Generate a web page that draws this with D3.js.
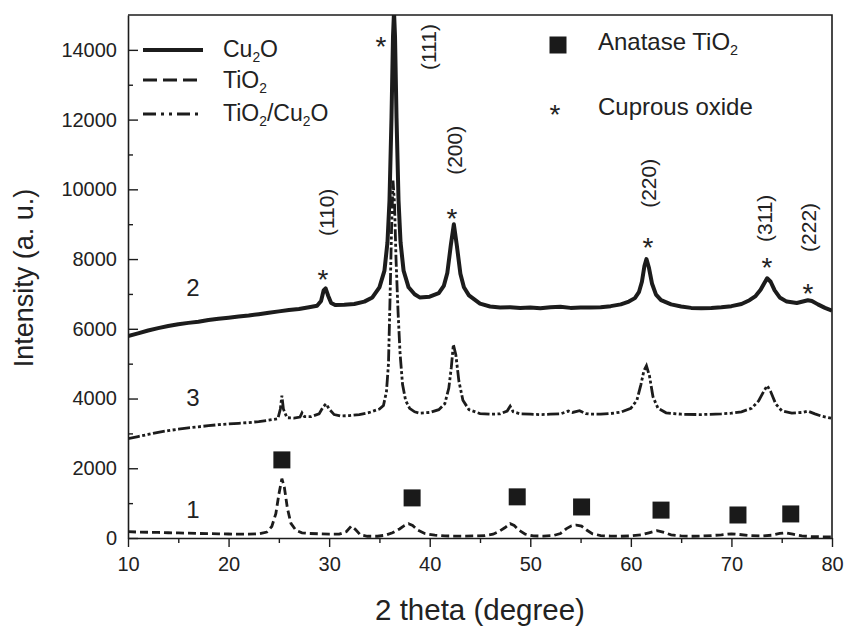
<!DOCTYPE html>
<html><head><meta charset="utf-8">
<script src="https://cdn.jsdelivr.net/npm/d3@7/dist/d3.min.js"></script>
<style>
body{margin:0;background:#fff}
svg{display:block}
text{font-family:"Liberation Sans",Arial,Helvetica,sans-serif;fill:#222}
</style>
</head><body>
<svg id="chart" width="845" height="626"></svg>
<script>
// ---- data (2 theta in degrees, intensity in a.u.) ----
const cu2oData = [
[10,5790],[11,5870],[12,5950],[13,6020],[14,6080],[15,6130],[16,6170],[17,6200],[18,6250],[19,6290],
[20,6320],[21,6350],[22,6380],[23,6420],[24,6460],[25,6500],[26,6540],[27,6570],[28,6620],[28.8,6660],
[29.2,6800],[29.45,7100],[29.65,7160],[29.9,6950],[30.2,6740],[30.6,6680],[31.5,6690],[32.5,6710],[33.5,6780],[34.3,6900],
[35.0,7190],[35.5,7670],[35.8,8480],[36.0,9680],[36.2,12050],[36.35,14380],[36.45,15100],[36.55,14380],[36.7,12050],[36.9,9680],
[37.1,8480],[37.4,7670],[37.9,7190],[38.5,6990],[39,6900],[40,6920],[40.9,7020],[41.4,7230],[41.75,7600],[42.1,8400],
[42.4,9000],[42.7,8380],[43.05,7580],[43.4,7190],[43.9,6960],[44.4,6850],[45,6720],[46,6640],[47,6610],[48,6620],
[49,6600],[50,6610],[51,6590],[52,6620],[53,6630],[54,6600],[55,6610],[56,6610],[57,6620],[58,6650],
[59,6700],[59.8,6780],[60.4,6880],[60.8,7050],[61.1,7350],[61.35,7800],[61.55,8000],[61.8,7750],[62.1,7300],[62.5,6980],
[63.0,6820],[64,6700],[65,6640],[66,6600],[67,6590],[68,6600],[69,6620],[70,6650],[71,6710],[71.8,6820],
[72.4,6940],[72.9,7120],[73.25,7300],[73.55,7450],[73.9,7350],[74.3,7100],[74.8,6900],[75.5,6780],[76.5,6740],[77.2,6790],
[77.6,6820],[78,6800],[78.6,6700],[79.3,6600],[80,6520]
];
const tio2Data = [
[10,180],[11,170],[12,165],[13,160],[14,150],[15,145],[16,140],[17,130],[18,125],[19,120],
[20,115],[21,110],[22,110],[23,120],[23.8,170],[24.3,330],[24.7,700],[25.0,1250],[25.3,1700],[25.55,1450],
[25.85,850],[26.2,420],[26.7,220],[27.3,150],[28,130],[29,120],[30,110],[31,110],[31.7,180],[32.2,340],
[32.6,250],[33.1,90],[33.8,50],[34.8,50],[35.6,80],[36.3,150],[37.0,260],[37.5,360],[37.9,410],[38.3,360],
[38.8,230],[39.5,130],[40.5,80],[41.5,60],[42.5,55],[43.5,55],[44.5,60],[45.5,70],[46.3,110],[46.9,190],
[47.5,300],[48.0,410],[48.4,360],[48.9,220],[49.5,110],[50.3,60],[51.3,55],[52.3,70],[53.0,130],[53.6,270],
[54.1,350],[54.6,370],[55.1,340],[55.6,230],[56.2,120],[57,70],[58,55],[59,50],[60,60],[61,90],
[61.8,150],[62.6,210],[63.3,160],[64,90],[65,60],[66,50],[67,55],[68,70],[69,90],[70,120],
[70.8,100],[71.8,70],[73,60],[74,80],[74.8,130],[75.4,150],[76.1,110],[77,60],[78,40],[79,35],[80,30]
];
const compositeData = [
[10,2850],[11,2910],[12,2970],[13,3030],[14,3080],[15,3120],[16,3160],[17,3190],[18,3220],[19,3250],
[20,3270],[21,3290],[22,3310],[23,3340],[24,3380],[24.9,3420],[25.15,3700],[25.3,4080],[25.45,3700],[25.8,3450],
[26.5,3440],[27.1,3470],[27.3,3590],[27.55,3480],[28.2,3480],[29.0,3560],[29.4,3760],[29.7,3850],[30.0,3700],[30.5,3540],
[31.1,3500],[32,3510],[33,3540],[34,3600],[35.0,3700],[35.4,3800],[35.7,4200],[35.9,5000],[36.05,6800],[36.2,8800],
[36.35,10250],[36.5,9600],[36.65,8000],[36.85,6500],[37.05,5300],[37.3,4400],[37.6,3950],[38.0,3720],[38.5,3620],[39,3580],
[40,3600],[40.9,3680],[41.5,3850],[41.9,4300],[42.15,4900],[42.35,5550],[42.6,5250],[42.9,4500],[43.3,3950],[43.9,3680],
[45,3570],[46,3550],[47,3560],[47.7,3640],[48.0,3780],[48.3,3620],[49,3560],[50,3550],[51,3540],[52,3550],
[53,3560],[53.8,3640],[54.2,3600],[54.9,3650],[55.5,3570],[56,3550],[57,3550],[58,3570],[59,3610],[60,3720],
[60.6,3950],[61.0,4400],[61.3,4800],[61.55,4940],[61.85,4650],[62.2,4050],[62.7,3720],[63.5,3590],[65,3550],[67,3540],
[69,3560],[70,3580],[71,3620],[72,3720],[72.7,3930],[73.2,4200],[73.55,4370],[73.9,4200],[74.4,3850],[75,3650],
[76,3580],[77,3600],[77.6,3640],[78.3,3560],[79,3490],[80,3430]
];
const xTicks = [10,20,30,40,50,60,70,80];
const xMinorTicks = [15,25,35,45,55,65,75];
const yTicks = [0,2000,4000,6000,8000,10000,12000,14000];
const yMinorTicks = [1000,3000,5000,7000,9000,11000,13000];
const anataseMarks = [[25.3,2240],[38.25,1150],[48.7,1180],[55.1,890],[63.0,800],[70.65,660],[75.9,690]];
const starMarks = [[29.39,7586],[35.16,14253],[42.22,9310],[61.7,8477],[73.54,7902],[77.6,7184]];
const peakLabels = ["(110)","(111)","(200)","(220)","(311)","(222)"];
const peakLabelPos = [[29.69,9339],[39.83,14080],[42.5,11120],[61.8,10172],[73.24,9167],[77.62,8908]];
const curveLabels = ["2","3","1"];
const curveLabelPos = [[16.46,7184],[16.46,4023],[16.46,805]];

// ---- layout ----
const svg = d3.select("#chart");
const m = {l:128, r:832, t:15, b:538};
const x = d3.scaleLinear().domain([10,80]).range([m.l, m.r]);
const y = d3.scaleLinear().domain([0,15000]).range([m.b, m.t]);
const ink = "#1c1c1c";

svg.append("defs").append("clipPath").attr("id","clip")
  .append("rect").attr("x",m.l).attr("y",m.t).attr("width",m.r-m.l).attr("height",m.b-m.t);

const line = d3.line().x(d=>x(d[0])).y(d=>y(d[1]));
const g = svg.append("g").attr("clip-path","url(#clip)");
g.append("path").datum(tio2Data).attr("d",line).attr("fill","none")
  .attr("stroke",ink).attr("stroke-width",2.8).attr("stroke-dasharray","8,4");
g.append("path").datum(compositeData).attr("d",line).attr("fill","none")
  .attr("stroke",ink).attr("stroke-width",2.8).attr("stroke-dasharray","12,2.5,3,2.5,3,2.5");
g.append("path").datum(cu2oData).attr("d",line).attr("fill","none")
  .attr("stroke",ink).attr("stroke-width",4).attr("stroke-linejoin","round");

// frame
svg.append("path").attr("d",`M${m.l},${m.t}H${m.r}V${m.b}`).attr("fill","none").attr("stroke",ink).attr("stroke-width",1.6);

// axes
const xAxis = svg.append("g").attr("transform",`translate(0,${m.b})`)
  .call(d3.axisBottom(x).tickValues(xTicks).tickSizeInner(9).tickSizeOuter(0).tickPadding(10).tickFormat(d3.format("d")));
svg.append("g").attr("transform",`translate(0,${m.b})`)
  .call(d3.axisBottom(x).tickValues(xMinorTicks).tickSizeInner(5).tickSizeOuter(0).tickFormat(""))
  .select(".domain").remove();
const yAxis = svg.append("g").attr("transform",`translate(${m.l},0)`)
  .call(d3.axisLeft(y).tickValues(yTicks).tickSizeInner(-10).tickSizeOuter(0).tickPadding(11).tickFormat(d3.format("d")));
svg.append("g").attr("transform",`translate(${m.l},0)`)
  .call(d3.axisLeft(y).tickValues(yMinorTicks).tickSizeInner(-5).tickSizeOuter(0).tickFormat(""))
  .select(".domain").remove();
svg.selectAll(".domain").attr("stroke",ink).attr("stroke-width",1.6);
svg.selectAll(".tick line").attr("stroke",ink).attr("stroke-width",1.4);
xAxis.selectAll("text").attr("font-size",20).attr("fill","#222").attr("font-family","Liberation Sans, Arial, sans-serif");
yAxis.selectAll("text").attr("font-size",20).attr("fill","#222").attr("font-family","Liberation Sans, Arial, sans-serif");

// axis titles
svg.append("text").attr("x",480).attr("y",620).attr("text-anchor","middle").attr("font-size",29.5).text("2 theta (degree)");
svg.append("text").attr("transform","translate(33,278) rotate(-90)").attr("text-anchor","middle").attr("font-size",27).text("Intensity (a. u.)");

// anatase squares
const sq = 17;
svg.append("g").selectAll("rect").data(anataseMarks).join("rect")
  .attr("x",d=>x(d[0])-sq/2).attr("y",d=>y(d[1])-sq/2).attr("width",sq).attr("height",sq).attr("fill","#1a1a1a");

// asterisks
svg.append("g").selectAll("text").data(starMarks).join("text")
  .attr("x",d=>x(d[0])).attr("y",d=>y(d[1])+15).attr("text-anchor","middle").attr("font-size",28).text("*");

// peak labels (rotated)
svg.append("g").selectAll("text").data(peakLabelPos).join("text")
  .attr("transform",d=>`translate(${x(d[0])},${y(d[1])}) rotate(-90)`)
  .attr("text-anchor","middle").attr("dominant-baseline","central").attr("font-size",21)
  .text((d,i)=>peakLabels[i]);

// curve numbers
svg.append("g").selectAll("text").data(curveLabelPos).join("text")
  .attr("x",d=>x(d[0])).attr("y",d=>y(d[1])).attr("text-anchor","middle").attr("dominant-baseline","central")
  .attr("font-size",24).text((d,i)=>curveLabels[i]);

// legend left
function subText(sel, parts, fs){
  parts.forEach(p=>{
    const t = sel.append("tspan").text(p[0]);
    if(p[1]){ t.attr("font-size",fs*0.6).attr("dy",5); }
    else if(p[2]){ t.attr("dy",-5); }
  });
}
const leg = svg.append("g");
const legRows = [
  {y:50, base:57, dash:null, w:3.8, parts:[["Cu"],["2",1],["O",0,1]]},
  {y:80, base:87.5, dash:"14,6", w:2.8, parts:[["TiO"],["2",1]]},
  {y:114, base:121, dash:"13,5,3,5,3,5", w:2.8, parts:[["TiO"],["2",1],["/Cu",0,1],["2",1],["O",0,1]]}
];
legRows.forEach(r=>{
  leg.append("line").attr("x1",143).attr("x2",203).attr("y1",r.y).attr("y2",r.y)
    .attr("stroke",ink).attr("stroke-width",r.w).attr("stroke-dasharray",r.dash);
  const t = leg.append("text").attr("x",223).attr("y",r.base).attr("font-size",23);
  subText(t, r.parts, 23);
});
// legend right
leg.append("rect").attr("x",558-sq/2).attr("y",45-sq/2).attr("width",sq).attr("height",sq).attr("fill","#1a1a1a");
const t1 = leg.append("text").attr("x",598).attr("y",50).attr("font-size",24);
subText(t1, [["Anatase TiO"],["2",1]], 24);
leg.append("text").attr("x",555).attr("y",109+15).attr("text-anchor","middle").attr("font-size",28).text("*");
leg.append("text").attr("x",598).attr("y",115).attr("font-size",24).text("Cuprous oxide");
</script>
</body></html>
